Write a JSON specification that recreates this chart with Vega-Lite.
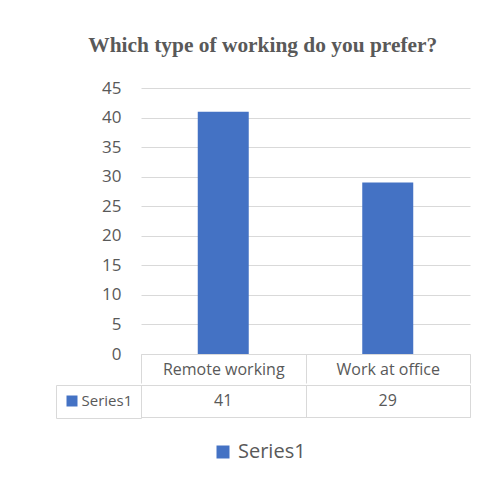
{
  "$schema": "https://vega.github.io/schema/vega-lite/v6.json",
  "padding": {"left": 55, "top": 34, "right": 5, "bottom": 5},
  "background": "white",
  "title": {"text": "Which type of working do you prefer?", "font": "Liberation Serif", "fontSize": 21.4, "fontWeight": "bold", "color": "#595959", "anchor": "middle", "frame": "bounds", "offset": 23},
  "config": {"view": {"stroke": null}, "font": "Open Sans"},
  "datasets": {
    "main": [
      {"cat": "Remote working", "value": 41, "series": "Series1"},
      {"cat": "Work at office", "value": 29, "series": "Series1"}
    ]
  },
  "spacing": 0,
  "resolve": {"legend": {"fill": "independent"}, "scale": {"fill": "independent"}},
  "vconcat": [
    {
      "width": 329,
      "height": 266,
      "data": {"name": "main"},
      "mark": {"type": "bar", "width": {"band": 0.31}},
      "encoding": {
        "x": {"field": "cat", "type": "nominal", "sort": null,
          "scale": {"paddingInner": 0, "paddingOuter": 0},
          "axis": {"title": null, "labelAngle": 0, "domainColor": "#d9d9d9", "tickColor": "#d9d9d9", "tickBand": "extent", "tickSize": 29, "labelPadding": -14, "labelBaseline": "middle", "labelFontSize": 16, "labelColor": "#595959", "labelFont": "Open Sans"}},
        "y": {"field": "value", "type": "quantitative", "scale": {"domain": [0, 45]},
          "axis": {"title": null, "values": [0, 5, 10, 15, 20, 25, 30, 35, 40, 45], "domain": false, "ticks": false, "gridColor": "#d9d9d9", "labelPadding": 20, "labelFontSize": 17, "labelColor": "#595959", "labelFont": "Open Sans"}},
        "color": {"field": "series", "type": "nominal", "scale": {"range": ["#4472c4"]},
          "legend": {"orient": "none", "legendX": 72, "legendY": 354, "title": null, "symbolType": "square", "symbolSize": 169, "labelFontSize": 20, "labelColor": "#595959", "labelFont": "Open Sans", "labelOffset": 5}}
      }
    },
    {
      "width": 329,
      "height": 32,
      "view": {"stroke": "#d9d9d9"},
      "data": {"name": "main"},
      "encoding": {
        "x": {"field": "cat", "type": "nominal", "sort": null,
          "scale": {"paddingInner": 0, "paddingOuter": 0},
          "axis": {"orient": "top", "title": null, "labels": false, "ticks": false, "domain": false, "grid": true, "tickBand": "extent", "gridColor": "#d9d9d9"}}
      },
      "layer": [
        {"mark": {"type": "text", "fontSize": 16, "color": "#595959", "baseline": "middle", "font": "Open Sans"},
         "encoding": {"text": {"field": "value", "type": "quantitative"}}},
        {"mark": {"type": "point", "shape": "square", "opacity": 0, "filled": true},
         "encoding": {"fill": {"field": "series", "type": "nominal", "scale": {"range": ["#4472c4"]},
           "legend": {"orient": "left", "title": null, "symbolType": "square", "symbolSize": 121, "symbolOpacity": 1, "labelFontSize": 15, "labelColor": "#595959", "labelFont": "Open Sans", "labelOffset": 2, "padding": 8.5, "strokeColor": "#d9d9d9", "offset": 0}}}}
      ]
    }
  ]
}
